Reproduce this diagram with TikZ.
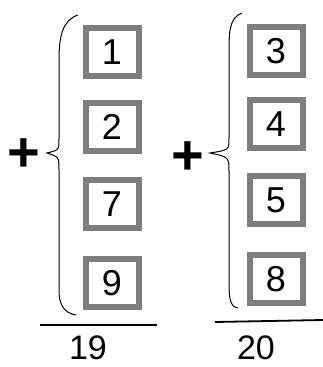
\documentclass[tikz,border=0pt]{standalone}
\usepackage{fontspec}
\setmainfont{Liberation Sans}
\usepackage{tikz}
\usepackage{xcolor}

\definecolor{pencil}{HTML}{7E7E7E}

\tikzset{
    digitbox/.style={draw=pencil, line width=6pt, minimum width=53pt, minimum height=48pt, inner sep=0pt, font=\fontsize{36}{36}\selectfont},
    plussign/.style={font=\fontsize{56}{56}\selectfont\bfseries, inner sep=0pt},
    sumtext/.style={font=\fontsize{34}{34}\selectfont, inner sep=0pt}
}

\begin{document}
\begin{tikzpicture}[x=1pt, y=-1pt, thick]
    \useasboundingbox (0,0) rectangle (323,367);
    % left column
    \node[plussign] (plusL) at (24,155) {+};
    \draw[line width=1pt] (78,15) .. controls (63,20) and (59,35) .. (59,60) -- (59,138) .. controls (59,150) .. (47,153) .. controls (59,157) .. (59,170) -- (59,290) .. controls (59,305) and (64,313) .. (76,315);
    \node[digitbox] (n1) at (112,52) {1};
    \node[digitbox] (n2) at (112,127) {2};
    \node[digitbox] (n7) at (112,204) {7};
    \node[digitbox] (n9) at (112,283) {9};
    \coordinate (barLa) at (40,325);
    \coordinate (barLb) at (157,325);
    \draw[line width=1.8pt] (barLa) -- (barLb);
    \node[sumtext] (sumL) at (88,348) {19};
    % right column
    \node[plussign] (plusR) at (188,158) {+};
    \draw[line width=1pt] (242,13) .. controls (229,18) and (229,32) .. (229,55) -- (229,138) .. controls (229,150) .. (210,153) .. controls (229,157) .. (229,172) -- (229,285) .. controls (229,300) and (231,307) .. (238,308);
    \node[digitbox] (n3) at (276,51) {3};
    \node[digitbox] (n4) at (276,124) {4};
    \node[digitbox] (n5) at (276,200) {5};
    \node[digitbox] (n8) at (276,279) {8};
    \coordinate (barRa) at (215,322);
    \coordinate (barRb) at (323,320);
    \draw[line width=1.8pt] (barRa) -- (barRb);
    \node[sumtext] (sumR) at (256,348) {20};
\end{tikzpicture}
\end{document}
